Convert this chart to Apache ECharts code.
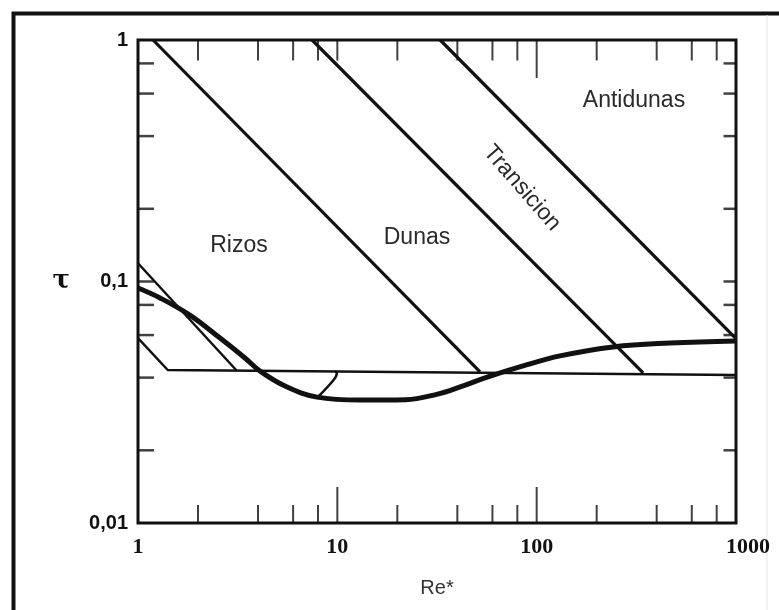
<!DOCTYPE html>
<html>
<head>
<meta charset="utf-8">
<script src="https://cdn.jsdelivr.net/npm/echarts@6/dist/echarts.min.js"></script>
<style>html,body{margin:0;padding:0;background:#fff}#c{width:779px;height:610px}</style>
</head>
<body>
<div id="c"></div>
<script>
// ---- data (Re*, tau) ----
const shieldsCurve = [[1,0.094],[1.29,0.0855],[1.82,0.0726],[2.58,0.0583],[3.44,0.0482],[4.09,0.0426],[5.47,0.0369],[7.91,0.0332],[13,0.0323],[22,0.0324],[31.5,0.0341],[41.3,0.0366],[56,0.0401],[85.5,0.0447],[131,0.0492],[242,0.0536],[467,0.0556],[1000,0.0567]];
const thinLine = [[1,0.119],[3.14,0.0426]];
const lowerBound = [[1,0.0583],[1.41,0.043],[1000,0.041]];
const boundaryRizosDunas = [[1.19,1],[52,0.0422]];
const boundaryDunasTransicion = [[7.47,1],[342,0.0418]];
const boundaryTransicionAntidunas = [[32.8,1],[1000,0.058]];
const hookMark = [[7.95,0.0331],[9.6,0.0392],[9.95,0.0418],[9.7,0.0425]];
const xLabelTicks = [1,10,100,1000];
const yLabelTicks = [0.01,0.1,1];
const bottomMinorTicks = [2,4,6,8,20,40,60,80,200,400,600,800];
const bottomMajorTicks = [10,100];
const topMinorTicks = [2,4,6,8,10,20,40,60,80,200,400,600,800];
const topMajorTicks = [100];
const sideTicks = [0.02,0.04,0.06,0.08,0.1,0.2,0.4,0.6,0.8];
const regionNames = ['Rizos','Dunas','Transicion','Antidunas'];

const chart = echarts.init(document.getElementById('c'), null, {renderer:'canvas'});

function tickSeries(data, size, offset){
  return {type:'scatter', data:data, symbol:'rect', symbolSize:size, symbolOffset:offset,
    itemStyle:{color:'#111'}, silent:true, clip:false, z:5};
}
function lineSeries(data, width, smooth){
  return {type:'line', data:data, showSymbol:false, smooth:smooth||false, clip:true,
    lineStyle:{color:'#111', width:width}, silent:true, z:4};
}

const option = {
  backgroundColor:'#fff',
  animation:false,
  grid:{left:138, top:40, right:43, bottom:87, show:true, borderColor:'#111', borderWidth:3, backgroundColor:'transparent'},
  xAxis:{type:'log', logBase:10, min:1, max:1000,
    name:'Re*', nameLocation:'middle', nameGap:55,
    nameTextStyle:{fontFamily:'Liberation Sans', fontSize:20, color:'#333'},
    axisLine:{show:false}, axisTick:{show:false}, splitLine:{show:false}, minorTick:{show:false},
    axisLabel:{margin:13, fontFamily:'Liberation Serif', fontSize:22, fontWeight:'bold', color:'#111',
      formatter:function(v){ return v===1000 ? '{r|1000}' : String(v); },
      rich:{r:{fontFamily:'Liberation Serif', fontSize:22, fontWeight:'bold', color:'#111', padding:[0,0,0,24]}}}
  },
  yAxis:{type:'log', logBase:10, min:0.01, max:1,
    name:'τ', nameLocation:'middle', nameGap:68, nameRotate:0,
    nameTextStyle:{fontFamily:'DejaVu Serif', fontSize:26, fontWeight:'bold', color:'#111'},
    axisLine:{show:false}, axisTick:{show:false}, splitLine:{show:false}, minorTick:{show:false},
    axisLabel:{margin:10, fontFamily:'Liberation Sans', fontSize:20, fontWeight:'bold', color:'#111',
      formatter:function(v){ return String(v).replace('.', ','); }}
  },
  series:[
    lineSeries(lowerBound, 2.5),
    lineSeries(thinLine, 2.5),
    lineSeries(boundaryRizosDunas, 3.2),
    lineSeries(boundaryDunasTransicion, 3.2),
    lineSeries(boundaryTransicionAntidunas, 3.2),
    lineSeries(shieldsCurve, 5, 0.4),
    lineSeries(hookMark, 2.5, 0.3),
    tickSeries(bottomMinorTicks.map(v=>[v,0.01]), [2,18], [0,-9]),
    tickSeries(bottomMajorTicks.map(v=>[v,0.01]), [2,36], [0,-18]),
    tickSeries(topMinorTicks.map(v=>[v,1]), [2,21], [0,10]),
    tickSeries(topMajorTicks.map(v=>[v,1]), [2,38], [0,19]),
    tickSeries(sideTicks.map(v=>[1,v]), [16,2.5], [8,0]),
    tickSeries(sideTicks.map(v=>[1000,v]), [13,2.5], [-6,0])
  ],
  graphic:[
    {type:'rect', shape:{x:13.5, y:13.5, width:900, height:900}, style:{fill:null, stroke:'#111', lineWidth:4}, z:0, silent:true},
    {type:'line', shape:{x1:767, y1:15, x2:767, y2:610}, style:{stroke:'#e4e4e4', lineWidth:1}, silent:true},
    {type:'text', style:{x:239, y:246, text:regionNames[0], fill:'#2a2a2a', font:'23px "Liberation Sans"', textAlign:'center', textVerticalAlign:'middle'}},
    {type:'text', style:{x:417, y:238, text:regionNames[1], fill:'#2a2a2a', font:'23px "Liberation Sans"', textAlign:'center', textVerticalAlign:'middle'}},
    {type:'text', x:522, y:188, rotation:-49*Math.PI/180, style:{x:0, y:0, text:regionNames[2], fill:'#2a2a2a', font:'23px "Liberation Sans"', textAlign:'center', textVerticalAlign:'middle'}},
    {type:'text', style:{x:634, y:101, text:regionNames[3], fill:'#2a2a2a', font:'23px "Liberation Sans"', textAlign:'center', textVerticalAlign:'middle'}}
  ]
};
chart.setOption(option);
</script>
</body>
</html>
